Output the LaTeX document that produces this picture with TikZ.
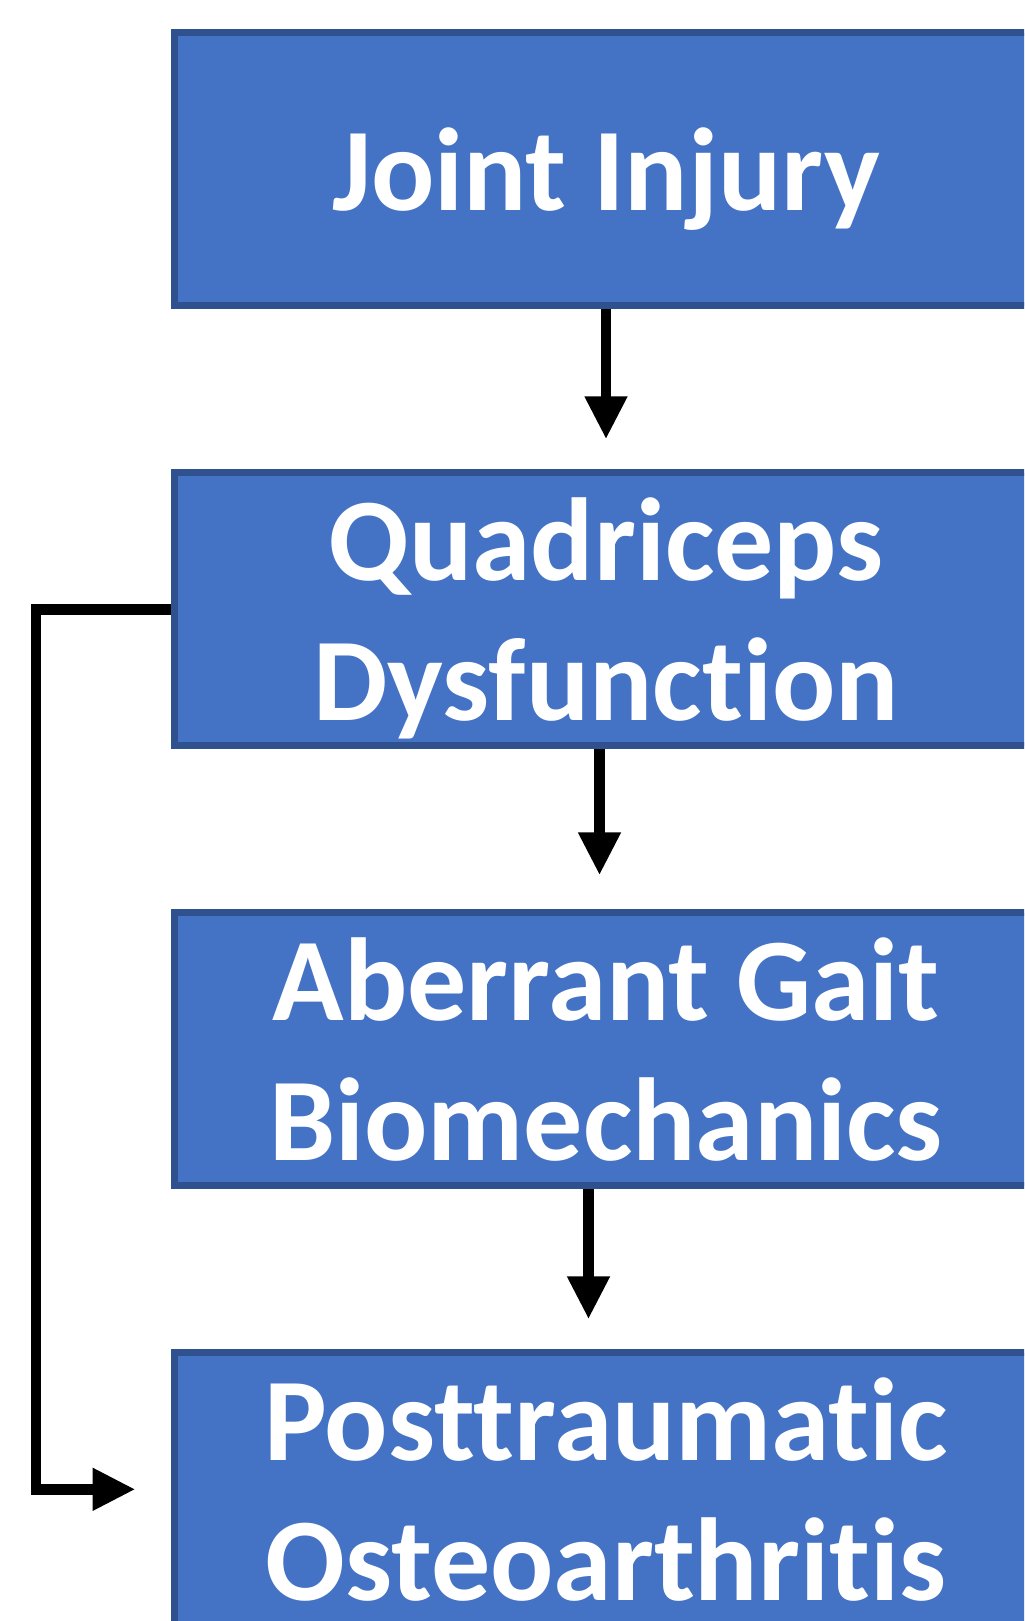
\documentclass[tikz,border=0pt]{standalone}
\usepackage{fontspec}
\setmainfont{Carlito}[Ligatures=NoCommon]
\usetikzlibrary{positioning,arrows.meta}
\definecolor{boxfill}{HTML}{4472C4}
\definecolor{boxline}{HTML}{2F528F}

\begin{document}
\begin{tikzpicture}[x=0.5pt,y=-0.5pt,node distance=80pt,
  box/.style={draw=boxline,fill=boxfill,line width=3.5pt,
    minimum width=431.5pt,minimum height=136.5pt,inner sep=0pt,text depth=0pt,
    align=center,text=white,font=\fontsize{59pt}{70pt}\selectfont\bfseries},
  flow/.style={line width=5.4pt,-{Triangle[width=20pt,length=21.5pt]}}]
\useasboundingbox (0,0) rectangle (1024,1621);
\clip (0,0) rectangle (1024,1621);
% boxes, running off the right edge
\node[box] (ji) at (606,169.3) {Joint Injury};
\node[box,below=of ji] (qd) {Quadriceps\\Dysfunction};
\node[box,below=of qd] (ab) {Aberrant Gait\\Biomechanics};
\node[box,below=of ab] (pt) {Posttraumatic\\Osteoarthritis};
%
\draw[flow,shorten >=15pt] (ji) -- (qd);
\draw[flow,shorten >=17pt] ([xshift=-3.25pt]qd.south) -- ([xshift=-3.25pt]ab.north);
\draw[flow,shorten >=15pt] ([xshift=-8.75pt]ab.south) -- ([xshift=-8.75pt]pt.north);
\draw[flow,shorten >=17.75pt] (qd.west) -- ++(-135,0) |- (pt.west);
\end{tikzpicture}
\end{document}
